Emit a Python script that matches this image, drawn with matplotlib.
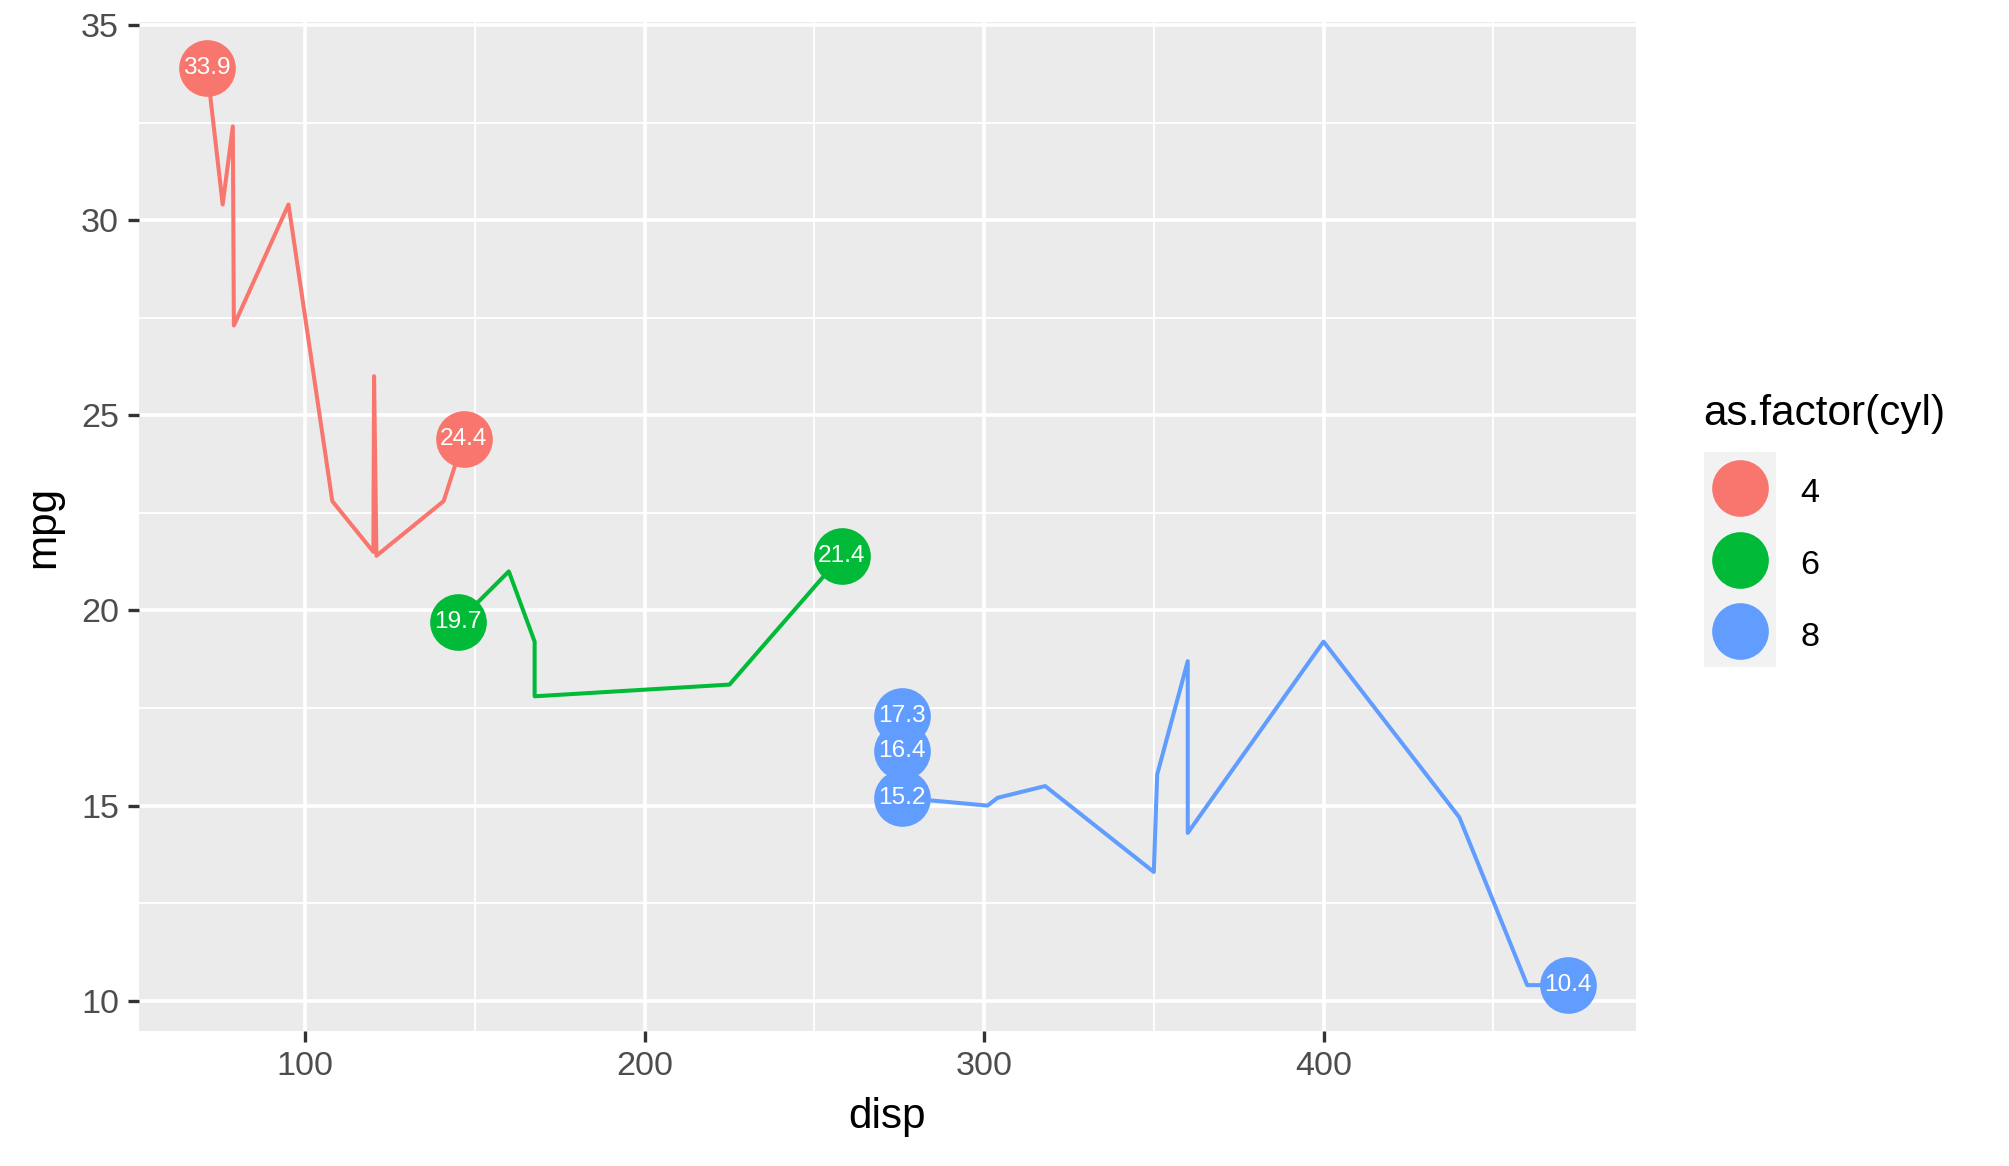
import numpy as np
import pandas as pd
import matplotlib
matplotlib.use("Agg")
import matplotlib.pyplot as plt

# mtcars: disp, mpg, cyl (original row order)
disp = [160, 160, 108, 258, 360, 225, 360, 146.7, 140.8, 167.6, 167.6, 275.8,
        275.8, 275.8, 472, 460, 440, 78.7, 75.7, 71.1, 120.1, 318, 304, 350,
        400, 79, 120.3, 95.1, 351, 145, 301, 121]
mpg = [21.0, 21.0, 22.8, 21.4, 18.7, 18.1, 14.3, 24.4, 22.8, 19.2, 17.8, 16.4,
       17.3, 15.2, 10.4, 10.4, 14.7, 32.4, 30.4, 33.9, 21.5, 15.5, 15.2, 13.3,
       19.2, 27.3, 26.0, 30.4, 15.8, 19.7, 15.0, 21.4]
cyl = [6, 6, 4, 6, 8, 6, 8, 4, 4, 6, 6, 8, 8, 8, 8, 8, 8, 4, 4, 4, 4, 8, 8, 8,
       8, 4, 4, 4, 8, 6, 8, 4]
levels = [4, 6, 8]
colors = ["#F8766D", "#00BA38", "#619CFF"]

plt.rcParams['font.family'] = ['Liberation Sans', 'DejaVu Sans']

W, H = 2009, 1166
DPI = 200
fig = plt.figure(figsize=(W / DPI, H / DPI), dpi=DPI)

tick_fs = 12.3
title_fs = 15.2


def fx(x):
    return x / W


def fy(y):
    return 1 - y / H


left, right, top, bottom = 139, 1636, 22, 1031
ax = fig.add_axes([fx(left), fy(bottom), (right - left) / W, (bottom - top) / H])
ax.set_facecolor("#EBEBEB")
for s in ax.spines.values():
    s.set_visible(False)

df = pd.DataFrame({"disp": disp, "mpg": mpg, "cyl": cyl})

# ggplot-like expansion
xr = max(disp) - min(disp)
yr = max(mpg) - min(mpg)
ax.set_xlim(min(disp) - 0.05 * xr, max(disp) + 0.05 * xr)
ax.set_ylim(min(mpg) - 0.05 * yr, max(mpg) + 0.05 * yr)

xt = [100, 200, 300, 400]
yt = [10, 15, 20, 25, 30, 35]
ax.set_xticks(xt)
ax.set_yticks(yt)
ax.set_xticks([150, 250, 350, 450], minor=True)
ax.set_yticks([12.5, 17.5, 22.5, 27.5, 32.5], minor=True)
ax.grid(True, which="major", color="white", linewidth=1.3)
ax.grid(True, which="minor", color="white", linewidth=0.65)
ax.set_axisbelow(True)
ax.tick_params(which="major", length=4, width=1.2, color="#333333",
               labelcolor="#4D4D4D", labelsize=tick_fs, pad=3.2)
ax.tick_params(which="minor", length=0)

line_w = 1.45
for lev, col in zip(levels, colors):
    g = df[df.cyl == lev].sort_values("disp", kind="mergesort")
    ax.plot(g.disp, g.mpg, color=col, linewidth=line_w,
            solid_capstyle="butt", solid_joinstyle="round", zorder=2)

pts = []
for lev, col in zip(levels, colors):
    g = df[df.cyl == lev]
    sel = g[(g.disp == g.disp.min()) | (g.disp == g.disp.max())]
    for _, r in sel.iterrows():
        pts.append((r.disp, r.mpg, col))

for x, y, col in pts:
    ax.plot([x], [y], "o", color=col, markersize=20.4, markeredgewidth=0,
            zorder=3)
for x, y, col in pts:
    ax.text(x, y, f"{y:g}", color="white", fontsize=8.8, ha="center",
            va="center", zorder=4)

fig.text(fx((left + right) / 2), fy(1117), "disp", ha="center", va="center",
         fontsize=title_fs, color="black")
fig.text(fx(43), fy((top + bottom) / 2), "mpg", ha="center", va="center",
         rotation=90, fontsize=title_fs, color="black")

# legend
fig.text(fx(1703), fy(425), "as.factor(cyl)", ha="left", va="baseline",
         fontsize=title_fs, color="black")
lax = fig.add_axes([fx(1704), fy(667), 72 / W, 215 / H])
lax.set_facecolor("#F2F2F2")
lax.set_xlim(0, 1)
lax.set_ylim(0, len(levels))
lax.set_xticks([])
lax.set_yticks([])
for s in lax.spines.values():
    s.set_visible(False)
for i, (lev, col) in enumerate(zip(levels, colors)):
    yy = len(levels) - i - 0.5
    lax.plot([0.5], [yy], "o", color=col, markersize=20.4, markeredgewidth=0)
    fig.text(fx(1800), fy(490 + 72 * i), str(lev), ha="left",
             va="center_baseline", fontsize=tick_fs, color="black")

fig.savefig("out.png", dpi=DPI, facecolor="white")
